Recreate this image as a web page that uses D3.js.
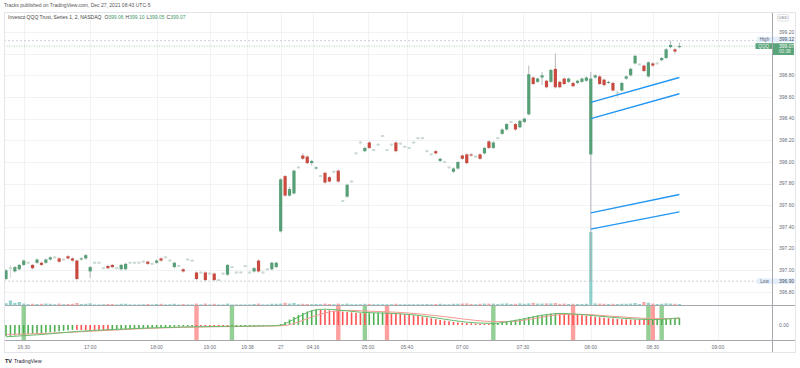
<!DOCTYPE html>
<html>
<head>
<meta charset="utf-8">
<script src="https://cdn.jsdelivr.net/npm/d3@7"></script>
<style>
  body { margin: 0; background: #fff; }
  svg { display: block; font-family: "Liberation Sans", Arial, sans-serif; }
</style>
</head>
<body>
<svg width="800" height="368"></svg>
<script>
// QQQ 2-minute bars, Dec 26/27 2021
const open = [
  396.92,397.02,396.99,397.01,397.05,397.07,397.05,397.07,397.07,397.07,
  397.10,397.12,397.11,397.10,397.13,397.11,397.09,397.10,397.11,396.99,
  397.07,397.07,397.02,397.04,397.05,397.02,397.01,397.01,397.07,397.07,
  397.07,397.08,397.08,397.06,397.07,397.11,397.12,397.09,397.03,397.04,
  397.01,397.10,397.09,396.98,396.98,396.98,396.97,396.97,396.91,396.97,
  396.96,397.03,396.98,396.98,397.04,396.98,396.99,397.09,396.98,397.01,
  397.01,397.03,397.36,397.87,397.69,397.71,397.95,398.06,398.05,397.99,
  397.94,397.87,397.90,397.86,397.91,397.92,397.64,397.68,397.82,398.08,
  398.18,398.10,398.18,398.11,398.16,398.24,398.11,398.16,398.18,398.17,
  398.14,398.13,398.18,398.22,398.22,398.10,398.07,398.10,398.01,398.00,
  397.95,397.91,397.94,398.06,398.07,398.07,398.05,398.07,398.08,398.19,
  398.13,398.22,398.26,398.30,398.37,398.35,398.32,398.37,398.44,398.78,
  398.74,398.78,398.75,398.74,398.86,398.74,398.77,398.74,398.73,398.73,
  398.74,398.75,398.07,398.78,398.79,398.76,398.73,398.73,398.64,398.66,
  398.77,398.80,398.91,398.90,398.89,398.79,398.91,398.91,398.94,398.96,
  399.06,399.04,399.06
];
const high = [
  397.01,397.05,397.04,397.06,397.10,397.08,397.06,397.11,397.08,397.11,
  397.13,397.13,397.12,397.11,397.14,397.12,397.10,397.12,397.15,397.04,
  397.08,397.08,397.03,397.05,397.06,397.03,397.06,397.07,397.08,397.08,
  397.08,397.09,397.09,397.07,397.10,397.12,397.13,397.10,397.08,397.05,
  397.02,397.11,397.10,396.99,396.99,396.99,396.98,396.98,396.92,396.98,
  397.06,397.04,396.99,396.99,397.05,396.99,397.03,397.10,396.99,397.02,
  397.08,397.08,397.85,397.88,397.77,397.93,397.96,398.08,398.06,398.02,
  397.96,397.88,397.91,397.87,397.92,397.93,397.65,397.80,397.83,398.09,
  398.19,398.14,398.19,398.12,398.17,398.25,398.12,398.17,398.19,398.18,
  398.15,398.14,398.19,398.23,398.23,398.11,398.08,398.11,398.04,398.01,
  397.96,397.95,398.01,398.07,398.08,398.08,398.06,398.08,398.14,398.20,
  398.19,398.23,398.31,398.36,398.38,398.36,398.39,398.41,398.89,398.79,
  398.78,398.83,398.76,398.86,399.00,398.75,398.78,398.78,398.74,398.76,
  398.78,398.79,398.83,398.81,398.80,398.77,398.75,398.74,398.66,398.74,
  398.80,398.87,398.99,398.91,398.90,398.93,398.92,398.92,398.97,399.05,
  399.12,399.05,399.10
];
const low = [
  396.91,396.93,396.98,397.00,397.04,397.06,397.01,397.06,397.04,397.06,
  397.09,397.11,397.07,397.09,397.10,397.08,396.91,397.09,397.10,396.93,
  397.06,397.06,397.01,397.01,397.02,397.01,397.00,397.00,397.06,397.06,
  397.06,397.07,397.05,397.05,397.06,397.08,397.11,397.08,397.02,397.03,
  396.98,397.09,397.08,396.91,396.97,396.90,396.96,396.90,396.90,396.96,
  396.95,397.02,396.97,396.97,397.03,396.97,396.98,396.98,396.97,397.00,
  397.00,397.02,397.35,397.68,397.68,397.70,397.94,398.02,397.98,397.97,
  397.93,397.86,397.80,397.81,397.90,397.81,397.63,397.67,397.81,398.07,
  398.17,398.09,398.12,398.10,398.15,398.23,398.10,398.15,398.09,398.16,
  398.13,398.12,398.17,398.21,398.21,398.09,398.06,398.07,398.00,397.99,
  397.94,397.90,397.93,398.02,397.98,398.05,398.04,398.02,398.07,398.12,
  398.12,398.21,398.25,398.29,398.36,398.29,398.31,398.36,398.43,398.71,
  398.73,398.71,398.68,398.73,398.68,398.68,398.71,398.73,398.69,398.72,
  398.73,398.74,396.90,398.77,398.71,398.70,398.72,398.65,398.59,398.65,
  398.76,398.79,398.90,398.89,398.83,398.78,398.88,398.90,398.93,398.95,
  399.05,399.00,399.05
];
const close = [
  397.00,397.02,397.03,397.05,397.09,397.07,397.02,397.10,397.05,397.10,
  397.12,397.12,397.08,397.10,397.11,397.09,396.92,397.11,397.14,397.03,
  397.07,397.07,397.02,397.02,397.03,397.02,397.05,397.06,397.07,397.07,
  397.07,397.08,397.06,397.06,397.09,397.09,397.12,397.09,397.07,397.04,
  396.99,397.10,397.09,396.92,396.98,396.91,396.97,396.91,396.91,396.97,
  397.05,397.03,396.98,396.98,397.04,396.98,397.02,396.99,396.98,397.01,
  397.07,397.07,397.84,397.69,397.75,397.92,397.95,398.03,397.99,398.01,
  397.95,397.87,397.81,397.82,397.91,397.82,397.64,397.79,397.82,398.08,
  398.18,398.13,398.13,398.11,398.16,398.24,398.11,398.16,398.10,398.17,
  398.14,398.13,398.18,398.22,398.22,398.10,398.07,398.08,398.03,398.00,
  397.95,397.94,398.00,398.03,397.99,398.06,398.05,398.03,398.13,398.13,
  398.18,398.22,398.30,398.35,398.37,398.30,398.38,398.40,398.81,398.72,
  398.77,398.80,398.69,398.85,398.69,398.69,398.72,398.77,398.70,398.75,
  398.77,398.78,398.77,398.80,398.72,398.71,398.74,398.66,398.64,398.73,
  398.79,398.86,398.98,398.90,398.84,398.92,398.89,398.91,398.96,399.04,
  399.08,399.02,399.07
];
const volume = [
  18,45,22,30,14,8,12,10,12,14,
  12,8,14,8,10,12,20,10,12,16,
  6,6,8,10,10,6,12,12,6,6,
  6,8,10,6,10,12,6,8,12,6,
  10,6,6,14,6,14,6,12,6,6,
  14,6,6,6,6,6,10,14,6,6,
  12,12,14,22,14,20,8,12,10,8,
  10,8,14,10,8,14,8,14,8,8,
  8,12,10,8,8,8,8,8,12,8,
  8,8,8,8,8,10,8,10,12,8,
  8,12,12,14,16,10,8,12,14,14,
  14,10,14,16,10,12,16,12,16,22,
  14,14,16,16,20,12,14,10,12,10,
  10,12,730,16,14,12,10,12,10,12,
  12,14,20,10,30,22,14,10,12,16,
  14,12,10
];

// time axis
const timeTickIdx = [4, 19, 34, 46, 54.5, 62, 69.3, 81.7, 90.5, 103, 116.7, 132, 146, 160.7];
const timeTickLabels = ["16:30","17:00","18:00","19:00","19:38","27","04:16","05:00","05:40","07:00","07:30","08:00","08:30","09:00"];

// drawn channel lines (start at bar 132, end at bar 152)
const trendFrom = 132, trendTo = 152;
const trendStart = [398.55, 398.40, 397.53, 397.38];
const trendEnd = [398.78, 398.63, 397.70, 397.54];

// oscillator pane
const hist = [
  -0.0112,-0.0108,-0.0104,-0.0100,-0.0096,-0.0092,-0.0088,-0.0084,-0.0080,-0.0076,
  -0.0072,-0.0068,-0.0063,-0.0058,-0.0053,-0.0048,-0.0049,-0.0050,-0.0051,-0.0052,
  -0.0053,-0.0054,-0.0055,-0.0056,-0.0054,-0.0052,-0.0049,-0.0046,-0.0043,-0.0040,
  -0.0037,-0.0034,-0.0031,-0.0028,-0.0026,-0.0024,-0.0022,-0.0020,-0.0018,-0.0016,
  -0.0014,-0.0013,-0.0012,-0.0013,-0.0014,-0.0015,-0.0016,-0.0017,-0.0018,-0.0019,
  -0.0020,-0.0019,-0.0018,-0.0017,-0.0016,-0.0015,-0.0013,-0.0011,-0.0009,-0.0007,
  -0.0005,-0.0003,0.0010,0.0030,0.0055,0.0080,0.0100,0.0120,0.0135,0.0148,
  0.0156,0.0154,0.0150,0.0146,0.0142,0.0138,0.0134,0.0130,0.0126,0.0122,
  0.0119,0.0116,0.0118,0.0120,0.0122,0.0124,0.0122,0.0120,0.0117,0.0113,
  0.0108,0.0103,0.0097,0.0090,0.0083,0.0075,0.0067,0.0059,0.0051,0.0044,
  0.0037,0.0031,0.0026,0.0022,0.0019,0.0016,0.0014,0.0012,0.0010,0.0009,
  0.0013,0.0019,0.0026,0.0034,0.0043,0.0052,0.0061,0.0070,0.0079,0.0087,
  0.0095,0.0102,0.0108,0.0113,0.0117,0.0116,0.0113,0.0110,0.0106,0.0102,
  0.0098,0.0093,0.0088,0.0083,0.0078,0.0073,0.0069,0.0065,0.0061,0.0058,
  0.0056,0.0054,0.0053,0.0052,0.0051,0.0050,0.0052,0.0055,0.0058,0.0061,
  0.0064,0.0067,0.0070
];
const fastIdx = [0, 8, 16, 24, 32, 40, 50, 60, 62, 64, 66, 68, 70, 72, 75, 80, 86, 92, 98, 104, 110, 114, 118, 122, 125, 130, 136, 142, 146, 152];
const fastVal = [-0.0118,-0.0095,-0.0065,-0.0045,-0.0030,-0.0020,-0.0013,-0.0008,-0.0002,0.0035,0.0080,0.0125,0.0152,0.0158,0.0150,0.0128,0.0118,0.0102,0.0065,0.0028,0.0016,0.0038,0.0072,0.0104,0.0116,0.0104,0.0080,0.0060,0.0054,0.0072];
const slowIdx = [0, 10, 20, 30, 40, 50, 60, 63, 66, 69, 72, 75, 78, 82, 88, 94, 100, 106, 110, 114, 118, 122, 126, 130, 136, 142, 146, 152];
const slowVal = [-0.0095,-0.0082,-0.0060,-0.0038,-0.0023,-0.0016,-0.0010,-0.0005,0.0030,0.0080,0.0120,0.0142,0.0146,0.0138,0.0128,0.0108,0.0078,0.0046,0.0034,0.0035,0.0055,0.0086,0.0106,0.0106,0.0090,0.0072,0.0064,0.0064];
const buySignals = [4, 51, 81, 110, 145, 148];
const sellSignals = [43, 75, 86, 128, 146];

const svg = d3.select("svg");
const left = 4, plotRight = 772, outerRight = 795, topY = 12;
const mainBottom = 305.5, lowBottom = 340.5, axisBottom = 352.5;
const upColor = "#579f76", downColor = "#c94b40";

const x = d3.scaleLinear().domain([0, 152]).range([6, 679.4]);
const y = d3.scaleLinear().domain([396.8, 399.2]).range([292, 32]);
const yVol = d3.scaleLinear().domain([0, 1000]).range([305, 205]);
const yLow = d3.scaleLinear().domain([-0.015, 0.02]).range([340, 305]);
const idx = d3.range(open.length);
const fmt = d3.format(".2f");

svg.append("rect").attr("width", 800).attr("height", 368).attr("fill", "#fff");

// grid
const grid = svg.append("g").attr("stroke", "#eeeff2").attr("stroke-width", 0.8);
grid.selectAll("line.h").data(y.ticks(12)).join("line")
  .attr("x1", left).attr("x2", plotRight)
  .attr("y1", d => Math.round(y(d)) + 0.5).attr("y2", d => Math.round(y(d)) + 0.5);
grid.selectAll("line.v").data(timeTickIdx).join("line")
  .attr("x1", d => Math.round(x(d)) + 0.5).attr("x2", d => Math.round(x(d)) + 0.5)
  .attr("y1", topY).attr("y2", lowBottom);

// volume
svg.append("g").selectAll("rect").data(idx).join("rect")
  .attr("x", i => x(i) - 1.6).attr("width", 3.2)
  .attr("y", i => yVol(volume[i])).attr("height", i => 305 - yVol(volume[i]))
  .attr("fill", i => close[i] >= open[i] ? "rgba(38,166,154,0.5)" : "rgba(239,83,80,0.5)");

// high / low / last price lines
const hi = d3.max(high), lo = d3.min(low), last = close[close.length - 1];
svg.append("line").attr("x1", left).attr("x2", plotRight).attr("y1", y(hi)).attr("y2", y(hi))
  .attr("stroke", "#b8bcc6").attr("stroke-width", 0.7).attr("stroke-dasharray", "2,2");
svg.append("line").attr("x1", left).attr("x2", plotRight).attr("y1", y(lo)).attr("y2", y(lo))
  .attr("stroke", "#b8bcc6").attr("stroke-width", 0.7).attr("stroke-dasharray", "2,2");
svg.append("line").attr("x1", left).attr("x2", plotRight).attr("y1", y(last)).attr("y2", y(last))
  .attr("stroke", "#7fbf98").attr("stroke-width", 0.7).attr("stroke-dasharray", "1,1.5");

// candles
const candles = svg.append("g");
candles.selectAll("line").data(idx).join("line")
  .attr("x1", i => x(i)).attr("x2", i => x(i))
  .attr("y1", i => y(high[i])).attr("y2", i => y(low[i]))
  .attr("stroke", i => open[i] === close[i] ? "#c4d4cc" : "#a3a6ad").attr("stroke-width", 0.8);
candles.selectAll("rect").data(idx).join("rect")
  .attr("x", i => x(i) - 1.6).attr("width", 3.2)
  .attr("y", i => open[i] === close[i] ? y(open[i]) - 0.9 : y(Math.max(open[i], close[i])))
  .attr("height", i => open[i] === close[i] ? 1.8 : Math.max(1, Math.abs(y(open[i]) - y(close[i]))))
  .attr("fill", i => open[i] === close[i] ? "#c9d9d1" : close[i] > open[i] ? upColor : downColor);

// channel lines
svg.append("g").selectAll("line").data(trendStart).join("line")
  .attr("x1", x(trendFrom)).attr("x2", x(trendTo))
  .attr("y1", d => y(d)).attr("y2", (d, k) => y(trendEnd[k]))
  .attr("stroke", "#2196f3").attr("stroke-width", 1.3);

// oscillator pane
const oscG = svg.append("g");
oscG.selectAll("rect.buy").data(buySignals).join("rect")
  .attr("x", i => x(i) - 2.2).attr("width", 4.4).attr("y", mainBottom).attr("height", lowBottom - mainBottom)
  .attr("fill", "rgba(76,175,80,0.6)");
oscG.selectAll("rect.sell").data(sellSignals).join("rect")
  .attr("x", i => x(i) - 2.2).attr("width", 4.4).attr("y", mainBottom).attr("height", lowBottom - mainBottom)
  .attr("fill", "rgba(255,82,82,0.55)");
oscG.selectAll("rect.h").data(idx).join("rect")
  .attr("x", i => x(i) - 0.8).attr("width", 1.6)
  .attr("y", i => Math.min(yLow(0), yLow(hist[i])))
  .attr("height", i => Math.abs(yLow(hist[i]) - yLow(0)))
  .attr("fill", i => (i === 0 || hist[i] >= hist[i - 1]) ? "#4caf50" : "#ff5252");
const osc = d3.line().x(d => x(d[0])).y(d => yLow(d[1])).curve(d3.curveMonotoneX);
oscG.append("path").attr("d", osc(slowIdx.map((d, k) => [d, slowVal[k]])))
  .attr("fill", "none").attr("stroke", "#f59a94").attr("stroke-width", 1);
oscG.append("path").attr("d", osc(fastIdx.map((d, k) => [d, fastVal[k]])))
  .attr("fill", "none").attr("stroke", "#66bb6a").attr("stroke-width", 1);

// frame and separators
const frame = svg.append("g").attr("stroke", "#a6a8ad").attr("fill", "none");
frame.append("line").attr("x1", left).attr("x2", outerRight).attr("y1", mainBottom).attr("y2", mainBottom).attr("stroke-width", 1.2);
frame.append("line").attr("x1", left).attr("x2", outerRight).attr("y1", lowBottom).attr("y2", lowBottom);
frame.append("line").attr("x1", plotRight + 0.5).attr("x2", plotRight + 0.5).attr("y1", topY).attr("y2", axisBottom);
svg.append("rect").attr("x", left + 0.5).attr("y", topY + 0.5)
  .attr("width", outerRight - left).attr("height", axisBottom - topY - 0.5)
  .attr("fill", "none").attr("stroke", "#e3e5ea");

// price axis labels (the one under the last-price tag stays hidden, as on TradingView)
const ly = y(last);
const priceTicks = y.ticks(12).filter(t => Math.abs(y(t) - ly) > 9);
svg.append("g").selectAll("text").data(priceTicks).join("text")
  .attr("x", 779).attr("y", d => y(d) + 1.7)
  .attr("font-size", 5).attr("fill", "#6a6d78").text(fmt);
svg.append("text").attr("x", 779).attr("y", yLow(0) + 1.7)
  .attr("font-size", 5).attr("fill", "#6a6d78").text(fmt(0));

// time axis labels
svg.append("g").selectAll("text").data(timeTickIdx).join("text")
  .attr("x", d => x(d)).attr("y", 348.5).attr("text-anchor", "middle")
  .attr("font-size", 5).attr("fill", "#6a6d78").text((d, k) => timeTickLabels[k]);

// USD box
svg.append("rect").attr("x", 777.5).attr("y", 14.5).attr("width", 11).attr("height", 6.5).attr("rx", 1.5)
  .attr("fill", "#fff").attr("stroke", "#c9ccd3").attr("stroke-width", 0.6);
svg.append("text").attr("x", 783).attr("y", 19.2).attr("text-anchor", "middle")
  .attr("font-size", 4.2).attr("fill", "#6a6d78").text("USD");

// high / low tags
function tag(cy, name, value) {
  svg.append("rect").attr("x", 757).attr("y", cy - 2.8).attr("width", 15).attr("height", 5.6).attr("fill", "#e3eefc");
  svg.append("text").attr("x", 764.5).attr("y", cy + 1.6).attr("text-anchor", "middle")
    .attr("font-size", 4.6).attr("fill", "#5b6170").text(name);
  svg.append("rect").attr("x", 773).attr("y", cy - 2.8).attr("width", 21).attr("height", 5.6).attr("fill", "#e3eefc");
  svg.append("text").attr("x", 779).attr("y", cy + 1.7)
    .attr("font-size", 5).attr("fill", "#4a5060").text(fmt(value));
}
tag(y(hi) - 1.2, "High", hi);
tag(y(lo), "Low", lo);

// last price tag
svg.append("rect").attr("x", 755.5).attr("y", ly - 2.9).attr("width", 16.5).attr("height", 5.8).attr("fill", "#5aa47a");
svg.append("text").attr("x", 763.7).attr("y", ly + 1.7).attr("text-anchor", "middle")
  .attr("font-size", 4.6).attr("fill", "#e8f5ec").text("QQQ");
svg.append("rect").attr("x", 773).attr("y", ly - 2.9).attr("width", 21).attr("height", 11.8).attr("fill", "#5aa47a");
svg.append("text").attr("x", 779).attr("y", ly + 1.8)
  .attr("font-size", 5).attr("fill", "#fff").text(fmt(last));
svg.append("text").attr("x", 779).attr("y", ly + 7.4)
  .attr("font-size", 4.6).attr("fill", "#e8f5ec").text("00:38");

// header and legend
svg.append("text").attr("x", 4).attr("y", 7).attr("font-size", 5).attr("fill", "#555")
  .text("Tracks published on TradingView.com, Dec 27, 2021 08:43 UTC-5");
const legend = svg.append("text").attr("x", 8).attr("y", 18.8).attr("font-size", 5).attr("fill", "#444");
legend.append("tspan").text("Invesco QQQ Trust, Series 1, 2, NASDAQ");
const ohlc = [["O", open], ["H", high], ["L", low], ["C", close]];
ohlc.forEach(([k, arr], n) => {
  legend.append("tspan").attr("dx", n === 0 ? 3 : 2).attr("fill", "#444").text(k);
  legend.append("tspan").attr("fill", "#3f9a67").text(fmt(arr[arr.length - 1]));
});

// footer logo
svg.append("text").attr("x", 5).attr("y", 363).attr("font-size", 5.5).attr("font-weight", "bold")
  .attr("fill", "#1e222d").text("TV");
svg.append("text").attr("x", 14).attr("y", 363).attr("font-size", 5).attr("fill", "#1e222d").text("TradingView");
</script>
</body>
</html>
